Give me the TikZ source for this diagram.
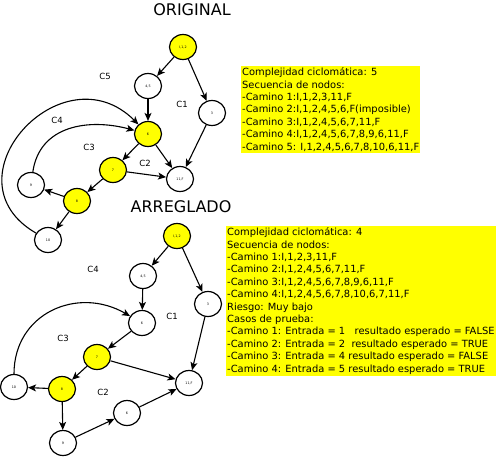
\documentclass[tikz,border=0pt]{standalone}
\usepackage{fontspec}
\setmainfont{DejaVu Sans}
\usetikzlibrary{shapes.geometric,arrows.meta}
\definecolor{hl}{RGB}{255,255,0}
\tikzset{
  gnode/.style={ellipse,draw=black,line width=1.2pt,fill=white,minimum width=27pt,minimum height=25pt,inner sep=0pt,font=\fontsize{3.3}{3.3}\selectfont},
  ynode/.style={gnode,fill=hl},
  edge/.style={line width=1.1pt,-{Stealth[length=8pt,width=7pt,inset=2pt]}},
  clab/.style={font=\fontsize{8.5}{10}\selectfont},
  ttl/.style={font=\fontsize{16}{18}\selectfont},
  info/.style={anchor=north west,fill=hl,inner xsep=1pt,inner ysep=1.5pt,align=left,font=\fontsize{9.9}{12.4}\selectfont}
}
\begin{document}
\begin{tikzpicture}[x=1pt,y=-1pt]
\useasboundingbox (0,0) rectangle (500,458);
% ORIGINAL
\node[ttl] (t1) at (192,10) {ORIGINAL};
\node[ynode] (a112) at (183,47) {I,1,2};
\node[gnode] (a45) at (148,86) {4,5};
\node[gnode] (a3) at (212,113) {3};
\node[ynode] (a6) at (148,134) {6};
\node[ynode] (a7) at (113,170) {7};
\node[gnode] (a11) at (180,179) {11,F};
\node[gnode] (a9) at (31,185) {9};
\node[ynode] (a8) at (77,201) {8};
\node[gnode] (a10) at (48,240) {10};
\node[clab] (ac5) at (105,76) {C5};
\node[clab] (ac1) at (182,104) {C1};
\node[clab] (ac4) at (57,120) {C4};
\node[clab] (ac3) at (89,147) {C3};
\node[clab] (ac2) at (145,163) {C2};
\draw[edge] (a112) -- (a45);
\draw[edge] (a112) -- (a3);
\draw[edge] (a45) -- (a6);
\draw[edge] (a3) -- (a11);
\draw[edge] (a6) -- (a7);
\draw[edge] (a6) -- (a11);
\draw[edge] (a7) -- (a8);
\draw[edge] (a7) -- (a11);
\draw[edge] (a8) -- (a9);
\draw[edge] (a8) -- (a10);
\draw[edge] (a9) to[out=82,in=165,looseness=1.1] (a6);
\draw[edge] (a10) to[out=150,in=135,looseness=1.85] (a6);
\node[info] (b1) at (241,66) {Complejidad ciclomática: 5\\Secuencia de nodos:\\-Camino 1:I,1,2,3,11,F\\-Camino 2:I,1,2,4,5,6,F(imposible)\\-Camino 3:I,1,2,4,5,6,7,11,F\\-Camino 4:I,1,2,4,5,6,7,8,9,6,11,F\\-Camino 5: I,1,2,4,5,6,7,8,10,6,11,F};
% ARREGLADO
\node[ttl] (t2) at (181,207) {ARREGLADO};
\node[ynode] (b112) at (177,236) {I,1,2};
\node[gnode] (b45) at (143,276) {4,5};
\node[gnode] (b3) at (208,304) {3};
\node[gnode] (b6) at (142,323) {6};
\node[ynode] (b7) at (97,357) {7};
\node[gnode] (b11) at (189,383) {11,F};
\node[gnode] (b10) at (14,387) {10};
\node[ynode] (b8) at (62,389) {8};
\node[gnode] (b9) at (63,443) {9};
\node[gnode] (b6b) at (127,413) {6};
\node[clab] (bc4) at (93,269) {C4};
\node[clab] (bc1) at (172,316) {C1};
\node[clab] (bc3) at (63,338) {C3};
\node[clab] (bc2) at (103,392) {C2};
\draw[edge] (b112) -- (b45);
\draw[edge] (b112) -- (b3);
\draw[edge] (b45) -- (b6);
\draw[edge] (b3) -- (b11);
\draw[edge] (b6) -- (b7);
\draw[edge] (b7) -- (b8);
\draw[edge] (b7) -- (b11);
\draw[edge] (b8) -- (b10);
\draw[edge] (b8) -- (b9);
\draw[edge] (b9) -- (b6b);
\draw[edge] (b6b) -- (b11);
\draw[edge] (b10) to[out=90,in=150,looseness=1.2] (b6);
\node[info] (b2) at (226,226) {Complejidad ciclomática: 4\\Secuencia de nodos:\\-Camino 1:I,1,2,3,11,F\\-Camino 2:I,1,2,4,5,6,7,11,F\\-Camino 3:I,1,2,4,5,6,7,8,9,6,11,F\\-Camino 4:I,1,2,4,5,6,7,8,10,6,7,11,F\\Riesgo: Muy bajo\\Casos de prueba:\\-Camino 1: Entrada = 1 \ \ resultado esperado = FALSE\\-Camino 2: Entrada = 2 \ resultado esperado = TRUE\\-Camino 3: Entrada = 4 resultado esperado = FALSE\\-Camino 4: Entrada = 5 resultado esperado = TRUE};
\end{tikzpicture}
\end{document}
